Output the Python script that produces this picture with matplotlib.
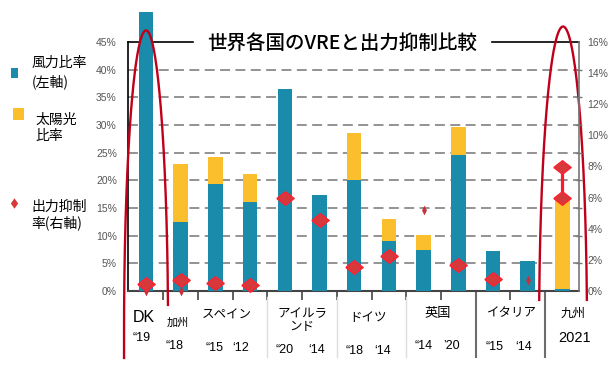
import numpy as np
import matplotlib
matplotlib.use('Agg')
import matplotlib.pyplot as plt
from matplotlib import font_manager
from matplotlib.patches import Rectangle
from matplotlib.lines import Line2D

plt.rcParams['font.family'] = ['Noto Sans CJK JP', 'DejaVu Sans']

# Data (left axis: share of generation %, right axis: curtailment %)
years = ['“19', '“18', '“15', '‘12', '“20', '‘14', '“18', '‘14', '“14', '’20', '“15', '‘14', '2021']
wind = [50.5, 12.5, 19.4, 16.1, 36.5, 17.3, 20.0, 9.1, 7.4, 24.6, 7.2, 5.4, 0.3]
solar = [0, 10.5, 4.9, 5.0, 0, 0, 8.6, 3.9, 2.8, 5.0, 0, 0, 16.1]
curtail = [0.42, 0.69, 0.50, 0.37, 5.95, 4.55, 1.56, 2.24, np.nan, 1.70, 0.74, np.nan, 8.0]
curtail_small = [0.0, 0.0, np.nan, np.nan, np.nan, np.nan, np.nan, np.nan, 5.2, np.nan, np.nan, 0.7, np.nan]
kyushu_low = 6.0
groups = ['DK', '加州', 'スペイン', 'アイルラ\nンド', 'ドイツ', '英国', 'イタリア', '九州']

BLUE = '#1a8bab'
YELLOW = '#fbbf2e'
RED = '#d6393b'
DARKRED = '#c0001a'

W, H = 610, 384
def px(x, y):
    return x / W, 1 - y / H

names = {f.name for f in font_manager.fontManager.ttflist}
latin = 'Liberation Sans' if 'Liberation Sans' in names else 'DejaVu Sans'
tick_font, tick_size = latin, 7.5

fig = plt.figure(figsize=(6.1, 3.84), dpi=100)
ax = fig.add_axes([128 / W, 93 / H, 451 / W, 249 / H])
x = np.arange(len(wind))

# grid
for v in range(5, 45, 5):
    ax.axhline(v, color='#8a8a8a', lw=1.3, ls=(0, (5.5, 3)), zorder=1)

ax.bar(x, wind, width=0.42, color=BLUE, zorder=3, clip_on=False)
ax.bar(x, solar, bottom=wind, width=0.42, color=YELLOW, zorder=3, clip_on=False)

ax.set_xlim(-0.52, 12.48)
ax.set_ylim(0, 45)
ax.set_yticks(range(0, 46, 5))
ax.set_yticklabels([f'{v}%' for v in range(0, 46, 5)], family=tick_font,
                   fontsize=tick_size, color='#555555')
ax.tick_params(axis='y', length=0, pad=8)
ax.set_xticks(np.arange(0.5, 12, 1))
ax.tick_params(axis='x', direction='out', length=6.5, width=1.2, color='#444444',
               labelbottom=False)
for s in ['top', 'right']:
    ax.spines[s].set_visible(False)
ax.spines['left'].set_color('black')
ax.spines['left'].set_linewidth(1.2)
ax.spines['bottom'].set_color('#444444')
ax.spines['bottom'].set_linewidth(1.5)

# top frame line, broken by the title
ax.plot([-0.52, 1.35], [45, 45], color='black', lw=1.2, zorder=2, clip_on=False)
ax.plot([9.97, 12.48], [45, 45], color='black', lw=1.2, zorder=2, clip_on=False)

# separators under the axis
for xv in [3.5, 5.5, 7.5]:
    ax.plot([xv, xv], [-1.1, -11.9], color='#dddddd', lw=1, clip_on=False)
for xv in [9.5, 11.5]:
    ax.plot([xv, xv], [0, -11.9], color='#6d6d6d', lw=1.5, clip_on=False)

# red highlight arcs
t = np.linspace(0.083, np.pi, 200)
ex = 0.634 * np.cos(t)
ey = -7.0 + 54.1 * np.sin(t)
ax.plot(np.r_[ex, ex[-1]], np.r_[ey, -12.1], color=DARKRED, lw=1.7, zorder=6, clip_on=False)
t = np.linspace(0.0985, np.pi - 0.0985, 200)
ax.plot(12.02 + 0.69 * np.cos(t), -7.0 + 54.8 * np.sin(t), color=DARKRED, lw=1.7,
        zorder=6, clip_on=False)

# right axis: curtailment
ax2 = ax.twinx()
ax2.set_ylim(0, 16)
ax2.set_yticks(range(0, 17, 2))
ax2.set_yticklabels([f'{v}%' for v in range(0, 17, 2)], family=tick_font,
                    fontsize=tick_size, color='#555555')
ax2.set_yticks(np.arange(0, 46, 5) * 16 / 45, minor=True)
ax2.tick_params(axis='y', which='major', length=0, pad=6)
ax2.tick_params(axis='y', which='minor', direction='inout', length=5, width=1, color='#777777')
for s in ['top', 'left', 'bottom']:
    ax2.spines[s].set_visible(False)
ax2.spines['right'].set_color('#777777')
ax2.spines['right'].set_linewidth(1.2)

big = [(-1, 0), (0, 0.78), (1, 0), (0, -0.78), (-1, 0)]
thin = [(-0.5, 0), (0, 1), (0.5, 0), (0, -1), (-0.5, 0)]
ax2.plot(x, curtail_small, ls='none', marker=thin, ms=7, color='#c8303a', mec='none',
         zorder=4, clip_on=False)
ax2.plot([12, 12], [kyushu_low, curtail[-1]], color='#ff1a2a', lw=2.3, zorder=4)
ax2.plot(x, curtail, ls='none', marker=big, ms=12.5, mfc=RED, mec='#ff2030', mew=1,
         zorder=5, clip_on=False)
ax2.plot([12], [kyushu_low], ls='none', marker=big, ms=12.5, mfc=RED, mec='#ff2030', mew=1,
         zorder=5, clip_on=False)

# title
fig.text(*px(342, 43), '世界各国のVREと出力抑制比較', fontsize=14, ha='center', va='center',
         fontweight='medium')

# category labels
gx = [144, 178, 227, 302, 368, 438, 512, 573]
gy = [318, 323, 315, 320, 317, 313, 313, 313]
gs = [11.5, 8, 9, 9, 9, 9.5, 9, 9]
for name, xx, yy, fs in zip(groups, gx, gy, gs):
    fam = [latin] if name == 'DK' else ['Noto Sans CJK JP', 'DejaVu Sans']
    fig.text(*px(xx, yy), name, fontsize=fs, ha='center', va='center', family=fam,
             linespacing=1.0)

yx = [142, 175, 215, 241, 285, 317, 355, 383, 424, 452, 495, 524, 575]
yy_ = [338, 346, 348, 348, 350, 350, 351, 351, 346, 346, 347, 347, 338]
for lab, xx, yy in zip(years, yx, yy_):
    fs = 10.5 if lab == '2021' else 9
    fig.text(*px(xx, yy), lab, fontsize=fs, ha='center', va='center', family=[latin, 'DejaVu Sans'])

# legend on the left
fig.add_artist(Rectangle(px(11, 78), 7 / W, 10 / H, transform=fig.transFigure,
                         color=BLUE, lw=0))
fig.add_artist(Rectangle(px(13, 120), 11 / W, 12 / H, transform=fig.transFigure,
                         color=YELLOW, lw=0))
lx, ly = px(14, 203)
fig.add_artist(Line2D([lx], [ly], transform=fig.transFigure, marker=[(-0.7, 0), (0, 1), (0.7, 0), (0, -1), (-0.7, 0)],
                      ms=7.5, color=RED, mec='none', ls='none'))
legend_txt = [('風力比率', 32, 63), ('(左軸)', 32, 82), ('太陽光', 35, 120), ('比率', 35, 136),
              ('出力抑制', 31, 207), ('率(右軸)', 31, 223)]
for s, xx, yy in legend_txt:
    fig.text(*px(xx, yy), s, fontsize=10, ha='left', va='center')

fig.savefig('out.png', dpi=100)
